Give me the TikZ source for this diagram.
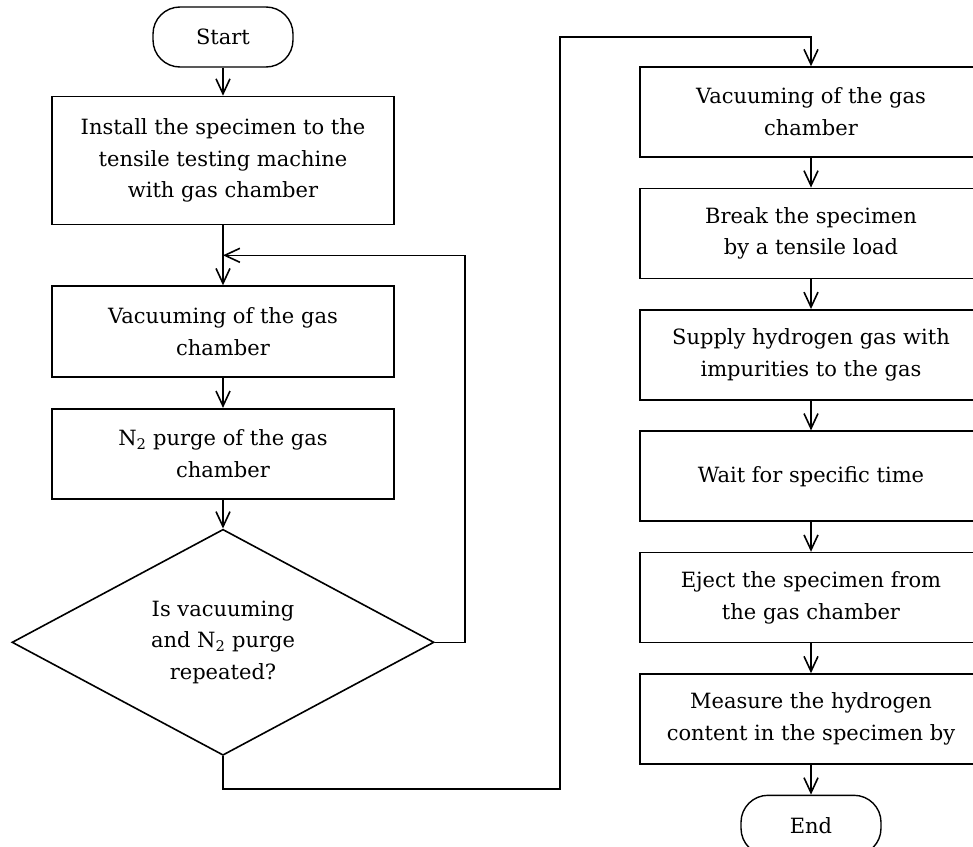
\documentclass[tikz,border=0pt]{standalone}
\usepackage{fontspec}
\setmainfont{DejaVu Serif}
\usetikzlibrary{shapes.geometric,arrows.meta,positioning,calc}

\begin{document}
\begin{tikzpicture}[x=1pt, y=-1pt, node distance=29.8pt,
    every node/.style={font=\fontsize{21}{31.7}\selectfont},
    process/.style={rectangle, draw, line width=1.6pt, align=center, minimum width=342pt, minimum height=90pt, inner sep=0pt},
    terminal/.style={rectangle, draw, line width=1.4pt, rounded corners=27pt, minimum width=140pt, minimum height=60pt, inner sep=0pt},
    decision/.style={diamond, draw, line width=1.6pt, align=center, aspect=1.87, minimum width=422pt, minimum height=226pt, inner sep=0pt},
    arrow/.style={-{Straight Barb[length=15pt,width=14pt]}, line width=1.6pt}]

    \path[use as bounding box] (0,0) rectangle (973,846);
    \clip (0,0) rectangle (973,846);

    % left column
    \node[terminal] (start) at (223,37) {Start};
    \node[process, below=28pt of start, minimum height=128pt] (install) {Install the specimen to the\\tensile testing machine\\with gas chamber};
    \node[process, below=60pt of install, minimum height=91pt] (vacfirst) {Vacuuming of the gas\\chamber};
    \node[process, below=30pt of vacfirst] (purge) {N\textsubscript{2} purge of the gas\\chamber};
    \node[decision, below=29pt of purge] (repeat) {Is vacuuming\\and N\textsubscript{2} purge\\repeated?};
    \coordinate (loopin) at ($(install.south)!0.5!(vacfirst.north)$);
    \coordinate (turn) at (560,37);

    % right column
    \node[process] (vacsecond) at (811,112) {Vacuuming of the gas\\chamber};
    \node[process, below=of vacsecond] (break) {Break the specimen\\by a tensile load};
    \node[process, below=of break] (supply) {Supply hydrogen gas with\\impurities to the gas};
    \node[process, below=of supply] (wait) {Wait for specific time};
    \node[process, below=of wait] (eject) {Eject the specimen from\\the gas chamber};
    \node[process, below=of eject] (measure) {Measure the hydrogen\\content in the specimen by};
    \node[terminal, below=of measure] (end) {End};

    \draw[arrow] (start) -- (install);
    \draw[arrow] (install) -- (vacfirst);
    \draw[arrow] (vacfirst) -- (purge);
    \draw[arrow] (purge) -- (repeat);
    \draw[arrow] (repeat.east) -- ++(30,0) |- (loopin);
    \draw[arrow] (repeat.south) -- ++(0,33) -| (turn) -| (vacsecond.north);
    \draw[arrow] (vacsecond) -- (break);
    \draw[arrow] (break) -- (supply);
    \draw[arrow] (supply) -- (wait);
    \draw[arrow] (wait) -- (eject);
    \draw[arrow] (eject) -- (measure);
    \draw[arrow] (measure) -- (end);

\end{tikzpicture}
\end{document}
